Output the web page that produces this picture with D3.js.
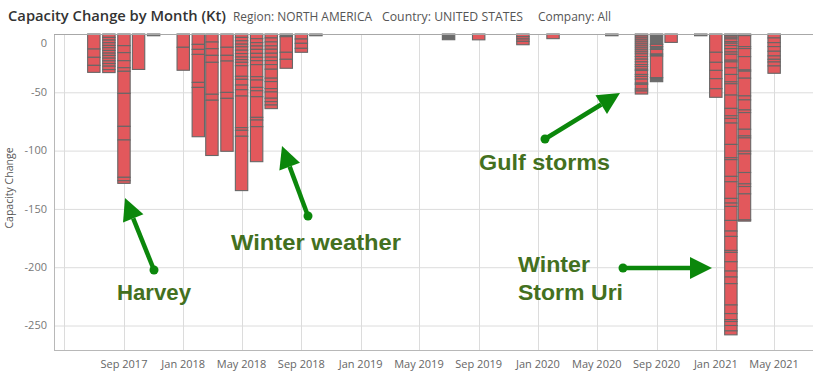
<!DOCTYPE html>
<html>
<head>
<meta charset="utf-8">
<script src="https://cdn.jsdelivr.net/npm/d3@7"></script>
<style>
  body { margin: 0; background: #fff; }
  svg { display: block; }
</style>
</head>
<body>
<svg id="chart"></svg>
<script>
// months with a capacity change (first day of month)
const months = [
  '2017-07', '2017-08', '2017-09', '2017-10', '2017-11',
  '2018-01', '2018-02', '2018-03', '2018-04', '2018-05', '2018-06', '2018-07', '2018-08', '2018-09', '2018-10',
  '2019-07', '2019-09', '2019-12', '2020-02', '2020-06', '2020-08', '2020-09', '2020-10', '2020-12',
  '2021-01', '2021-02', '2021-03', '2021-05'
];

// lost capacity per unit event (Kt), stacked from zero downwards
const segments = [
  [12.9, 7.1, 6.9, 6.0],
  [2.9, 2.3, 2.3, 2.3, 2, 2.3, 2.3, 2, 2.3, 2.3, 2.3, 2.3, 2.9, 2.6],
  [10, 6, 6.9, 6, 3.1, 18.9, 28.3, 11.7, 32, 2.9, 2.3],
  [30.4],
  [1.5],
  [11.4, 19.7],
  [8.9, 4.3, 4.3, 24, 4.3, 42.3],
  [6.9, 5.7, 5.7, 6, 27.4, 5.1, 47.4],
  [11.4, 6.9, 4.9, 26.9, 5.1, 45.4],
  [2.9, 2.9, 2.9, 2.3, 2.9, 2.9, 2.9, 2.3, 2.3, 2.9, 9.1, 2.6, 4.9, 4, 5.4, 27.1, 2.3, 5.1, 46.6],
  [4, 3.4, 2.9, 2.9, 3.4, 3.4, 2.9, 3.4, 10.3, 2.9, 6.3, 2.9, 5.1, 17.7, 2.3, 5.7, 30],
  [3.4, 3.4, 3.4, 2.9, 3.4, 3.4, 2.9, 3.4, 4, 7.7, 2.9, 6, 2.9, 5.4, 2.9, 2.9, 3.1],
  [2.3, 13.4, 6, 7.7],
  [4.3, 3.7, 4.3, 3.4],
  [1.5],
  [4.9],
  [5],
  [2.3, 2, 2, 2.9],
  [4],
  [1.5],
  [1.7, 1.7, 1.7, 1.7, 1.7, 1.7, 1.7, 1.7, 1.7, 1.7, 2.3, 2.3, 2.3, 2.3, 1.7, 2.3, 1.1, 3.4, 1.7, 2.3, 3.4, 1.1, 4, 1.7, 2.6],
  [8.9, 2, 2.3, 4, 1.7, 18.6, 3.4],
  [7.2],
  [1.5],
  [15.7, 8.6, 6.9, 7.1, 8.6, 7.4],
  [1.4, 1.4, 1.4, 2.3, 1.4, 2, 2.6, 2.9, 2, 5.1, 1.4, 5.1, 5.7, 6.3, 1.7, 9.7, 11.4, 6.3, 2.3, 4, 18.3, 11.4,
   1.7, 14.3, 4.6, 14.3, 4, 2.9, 12, 9.1, 4.6, 12, 1.7, 8, 8, 5.1, 5.7, 18.3, 7.4, 5.1, 1.7, 3.4, 4.6, 3.4],
  [1.4, 9.4, 1.7, 6.9, 11.4, 1.1, 6, 15.2, 3.4, 8.6, 2.3, 14.3, 5.7, 1.7, 11.4, 2.3, 16, 9.7, 2.3, 6.3, 22.3, 1.1],
  [3.4, 4, 3.4, 4, 4, 2.9, 2.3, 3.4, 6.3]
];

// segments drawn in the second (grey) colour: [month, segment index]
const greyParts = [
  ['2017-11', 0], ['2018-08', 0], ['2018-10', 0], ['2019-07', 0], ['2020-06', 0],
  ['2020-09', 0], ['2020-09', 2], ['2020-09', 4], ['2020-09', 6], ['2020-12', 0]
];

const yTicks = [0, -50, -100, -150, -200, -250];

const titleText = 'Capacity Change by Month (Kt)';
const filterTexts = ['Region: NORTH AMERICA', 'Country: UNITED STATES', 'Company: All'];

const notes = [
  { lines: ['Harvey'], widths: [74], from: [154, 270], to: [125, 198], text: [117, 300] },
  { lines: ['Winter weather'], widths: [170], from: [308, 216], to: [282, 146], text: [231, 250] },
  { lines: ['Gulf storms'], widths: [131], from: [545, 139], to: [620, 93], text: [479, 170] },
  { lines: ['Winter', 'Storm Uri'], widths: [72, 105], from: [623, 268], to: [712, 268], text: [518, 272] }
];

class CapacityChart {
  constructor(_config) {
    this.config = {
      parentElement: _config.parentElement,
      containerWidth: _config.containerWidth,
      containerHeight: _config.containerHeight,
      margin: { top: 34, right: 0, bottom: 26, left: 54 }
    };
    this.initVis();
  }

  initVis() {
    let vis = this;
    const m = vis.config.margin;
    vis.width = vis.config.containerWidth - m.left - m.right;
    vis.height = vis.config.containerHeight - m.top - m.bottom;

    vis.svg = d3.select(vis.config.parentElement)
      .attr('width', vis.config.containerWidth)
      .attr('height', vis.config.containerHeight);

    vis.xScale = d3.scaleTime()
      .domain([new Date(2017, 3, 10), new Date(2021, 6, 20)])
      .range([0, vis.width]);

    vis.yScale = d3.scaleLinear()
      .domain([-271, 0])
      .range([vis.height, 0]);

    vis.chart = vis.svg.append('g')
      .attr('transform', `translate(${m.left},${m.top})`);

    vis.updateVis();
  }

  updateVis() {
    let vis = this;
    const parse = d3.timeParse('%Y-%m');
    const greyKey = new Set(greyParts.map(d => d[0] + '|' + d[1]));

    vis.bars = months.map((mo, i) => {
      let acc = 0;
      return {
        date: parse(mo),
        parts: segments[i].map((v, j) => {
          const top = acc;
          acc -= v;
          return { top: top, bottom: acc, grey: greyKey.has(mo + '|' + j) };
        })
      };
    });

    vis.renderVis();
  }

  renderVis() {
    let vis = this;
    const grid = '#dcdcdc';
    const monthTicks = vis.xScale.ticks(d3.timeMonth.every(4));

    // gridlines
    vis.chart.append('g').selectAll('line')
      .data(yTicks.filter(d => d !== 0))
      .join('line')
      .attr('x1', 0).attr('x2', vis.width)
      .attr('y1', d => vis.yScale(d) + 0.5).attr('y2', d => vis.yScale(d) + 0.5)
      .attr('stroke', grid);

    vis.chart.append('g').selectAll('line')
      .data(monthTicks)
      .join('line')
      .attr('x1', d => Math.round(vis.xScale(d)) + 0.5).attr('x2', d => Math.round(vis.xScale(d)) + 0.5)
      .attr('y1', 0).attr('y2', vis.height)
      .attr('stroke', grid);

    // frame
    vis.chart.append('line')
      .attr('x1', 0.5).attr('x2', 0.5).attr('y1', 0).attr('y2', vis.height)
      .attr('stroke', '#b8b8b8');
    vis.chart.append('line')
      .attr('x1', 0).attr('x2', vis.width).attr('y1', vis.height + 0.5).attr('y2', vis.height + 0.5)
      .attr('stroke', '#b8b8b8');

    // stacked bars
    const bw = 12.4;
    vis.chart.append('g').selectAll('g')
      .data(vis.bars)
      .join('g')
      .selectAll('rect')
      .data(d => d.parts.map(p => Object.assign({ date: d.date }, p)))
      .join('rect')
      .attr('x', d => vis.xScale(d.date) - bw / 2)
      .attr('y', d => vis.yScale(d.top))
      .attr('width', bw)
      .attr('height', d => vis.yScale(d.bottom) - vis.yScale(d.top))
      .attr('fill', d => d.grey ? '#6b6b6b' : '#e2585c')
      .attr('stroke', '#676767')
      .attr('stroke-width', 1.1);

    // zero line on top
    vis.chart.append('line')
      .attr('x1', 0).attr('x2', vis.width).attr('y1', 0.5).attr('y2', 0.5)
      .attr('stroke', '#a8a8a8');

    // y axis labels
    vis.chart.append('g').selectAll('text')
      .data(yTicks)
      .join('text')
      .attr('x', -7)
      .attr('y', d => d === 0 ? 9 : vis.yScale(d))
      .attr('dy', '0.35em')
      .attr('text-anchor', 'end')
      .attr('font-family', 'Open Sans, sans-serif')
      .attr('font-size', 11)
      .attr('fill', '#777')
      .text(d => d.toString());

    // x axis labels (first tick is clipped in the original)
    vis.chart.append('g').selectAll('text')
      .data(monthTicks.filter(d => vis.xScale(d) > 30))
      .join('text')
      .attr('x', d => vis.xScale(d))
      .attr('y', vis.height + 18)
      .attr('text-anchor', 'middle')
      .attr('font-family', 'Open Sans, sans-serif')
      .attr('font-size', 11)
      .attr('fill', '#666')
      .text(d3.timeFormat('%b %Y'));

    vis.svg.append('text')
      .attr('transform', 'translate(13,188) rotate(-90)')
      .attr('text-anchor', 'middle')
      .attr('font-family', 'Open Sans, sans-serif')
      .attr('font-size', 10.5)
      .attr('fill', '#555')
      .text('Capacity Change');

    // title + filters
    vis.svg.append('text')
      .attr('x', 8).attr('y', 21)
      .attr('font-family', 'Open Sans, sans-serif')
      .attr('font-size', 15)
      .attr('font-weight', 600)
      .attr('fill', '#333')
      .attr('textLength', 218).attr('lengthAdjust', 'spacingAndGlyphs')
      .text(titleText);

    const fx = [233, 382, 538];
    const fw = [139, 141, 73];
    filterTexts.forEach((t, i) => {
      vis.svg.append('text')
        .attr('x', fx[i]).attr('y', 21)
        .attr('font-family', 'Open Sans, sans-serif')
        .attr('font-size', 12)
        .attr('fill', '#555')
        .attr('textLength', fw[i]).attr('lengthAdjust', 'spacingAndGlyphs')
        .text(t);
    });

    // annotations
    const green = '#0b870b';
    const ann = vis.svg.append('g');
    notes.forEach(n => {
      const [x0, y0] = n.from, [x1, y1] = n.to;
      const ang = Math.atan2(y1 - y0, x1 - x0);
      const head = 22, half = 11;
      const bx = x1 - head * Math.cos(ang), by = y1 - head * Math.sin(ang);
      ann.append('line')
        .attr('x1', x0).attr('y1', y0).attr('x2', bx).attr('y2', by)
        .attr('stroke', green).attr('stroke-width', 4.5);
      ann.append('circle')
        .attr('cx', x0).attr('cy', y0).attr('r', 4.5)
        .attr('fill', green);
      const px = -Math.sin(ang) * half, py = Math.cos(ang) * half;
      ann.append('path')
        .attr('d', `M${x1},${y1}L${bx + px},${by + py}L${bx - px},${by - py}Z`)
        .attr('fill', green);
      n.lines.forEach((l, k) => {
        ann.append('text')
          .attr('x', n.text[0]).attr('y', n.text[1] + k * 28)
          .attr('font-family', 'Liberation Sans, Arial, sans-serif')
          .attr('font-weight', 'bold')
          .attr('font-size', 22.5)
          .attr('fill', '#437020')
          .attr('textLength', n.widths[k]).attr('lengthAdjust', 'spacingAndGlyphs')
          .text(l);
      });
    });
  }
}

new CapacityChart({ parentElement: '#chart', containerWidth: 813, containerHeight: 376 });
</script>
</body>
</html>
